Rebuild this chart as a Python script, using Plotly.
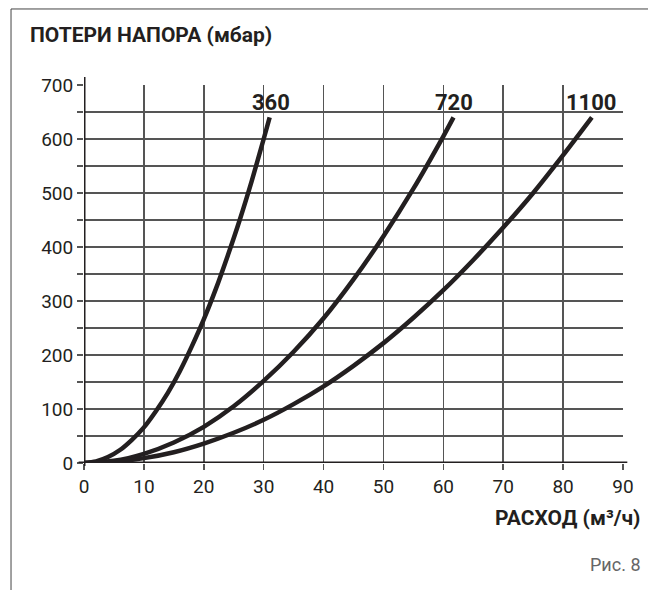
import plotly.graph_objects as go

# Data
flow_360 = [0, 2, 4, 6, 8, 10, 12, 14, 16, 18, 20, 22, 24, 26, 28, 30, 31]
loss_360 = [0, 3, 11, 24, 43, 66, 96, 130, 170, 216, 266, 322, 384, 450, 522, 600, 640]

flow_720 = [0, 5, 10, 15, 20, 25, 30, 35, 40, 45, 50, 55, 60, 61.7]
loss_720 = [0, 4, 17, 38, 67, 105, 152, 206, 268, 340, 420, 508, 605, 640]

flow_1100 = [0, 5, 10, 15, 20, 25, 30, 35, 40, 45, 50, 55, 60, 65, 70, 75, 80, 84.8]
loss_1100 = [0, 2, 9, 20, 36, 56, 80, 109, 142, 180, 222, 269, 320, 376, 436, 500, 570, 640]

series_names = ["360", "720", "1100"]
label_x = [31.3, 61.8, 84.8]
label_y = [668, 668, 668]

x_ticks = list(range(0, 91, 10))
y_ticks = list(range(0, 701, 100))

INK = "#231f20"
GRID = "#555555"

fig = go.Figure()
for xs, ys, name in zip([flow_360, flow_720, flow_1100], [loss_360, loss_720, loss_1100], series_names):
    fig.add_trace(go.Scatter(x=xs, y=ys, mode="lines", name=name,
                             line=dict(color=INK, width=4.5, shape="spline", smoothing=0.8),
                             showlegend=False, hoverinfo="skip"))

for lx, ly, name in zip(label_x, label_y, series_names):
    fig.add_annotation(x=lx, y=ly, xref="x", yref="y", text=name, showarrow=False,
                       font=dict(family="Roboto, Liberation Sans, sans-serif",
                                 size=22, color=INK, weight="bold"),
                       xanchor="center", yanchor="middle")

tick_font = dict(family="Roboto, Liberation Sans, sans-serif", size=19, color=INK)

fig.update_xaxes(range=[0, 90], tickvals=x_ticks, ticktext=[str(v) for v in x_ticks],
                 showgrid=True, gridcolor=GRID, gridwidth=1.5, zeroline=False,
                 showline=False, ticks="outside", ticklen=6, tickwidth=1.5, tickcolor=GRID,
                 tickfont=tick_font, fixedrange=True)
fig.update_yaxes(range=[0, 700], tickvals=y_ticks, ticktext=[str(v) for v in y_ticks],
                 showgrid=True, gridcolor=GRID, gridwidth=1.5, zeroline=False,
                 showline=False, ticks="outside", ticklen=6, tickwidth=1.5, tickcolor=GRID,
                 minor=dict(dtick=50, showgrid=True, gridcolor=GRID, gridwidth=1.5,
                            ticks="outside", ticklen=6, tickwidth=1.5, tickcolor=GRID),
                 tickfont=tick_font, fixedrange=True)

# Axis lines (thick)
fig.add_shape(type="line", xref="paper", yref="y", x0=-0.01, x1=1.008, y0=0, y1=0,
              line=dict(color=INK, width=3))
fig.add_shape(type="line", xref="x", yref="paper", x0=0, x1=0, y0=-0.008, y1=1.021,
              line=dict(color=INK, width=3))

# Outer frame
fig.add_shape(type="line", xref="paper", yref="paper", x0=-0.1354, x1=1.07, y0=1.2011, y1=1.2011,
              line=dict(color="#444444", width=1))
fig.add_shape(type="line", xref="paper", yref="paper", x0=-0.1354, x1=-0.1354, y0=1.2011, y1=-0.37,
              line=dict(color="#444444", width=1))

fig.add_annotation(x=-0.1039, y=1.132, xref="paper", yref="paper", text="<b>ПОТЕРИ НАПОРА (мбар)</b>",
                   showarrow=False, xanchor="left", yanchor="middle",
                   font=dict(family="Roboto, Liberation Sans, sans-serif", size=21, color=INK))
fig.add_annotation(x=1.0371, y=-0.1455, xref="paper", yref="paper", text="<b>РАСХОД (м³/ч)</b>",
                   showarrow=False, xanchor="right", yanchor="middle",
                   font=dict(family="Roboto, Liberation Sans, sans-serif", size=21, color=INK))
fig.add_annotation(x=1.0371, y=-0.2698, xref="paper", yref="paper", text="Рис. 8",
                   showarrow=False, xanchor="right", yanchor="middle",
                   font=dict(family="Roboto, Liberation Sans, sans-serif", size=18, color="#666666"))

fig.update_layout(width=648, height=590, margin=dict(l=84, r=25, t=85, b=127),
                  plot_bgcolor="white", paper_bgcolor="white")

fig.write_html("out.html", config={"displayModeBar": False, "staticPlot": True},
               post_script="document.body.style.margin='0px';document.body.style.overflow='hidden';")
